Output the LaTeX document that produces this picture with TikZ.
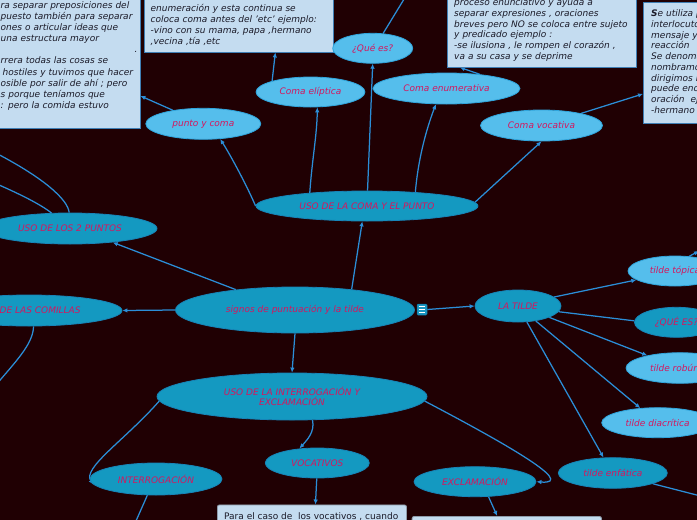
\documentclass[tikz,border=0pt]{standalone}
\usepackage{fontspec}
\setmainfont{DejaVu Sans}
\usetikzlibrary{shapes.geometric,arrows.meta,calc}
\definecolor{bgc}{HTML}{200003}
\definecolor{dkfill}{HTML}{1499C1}
\definecolor{dkdraw}{HTML}{1784B8}
\definecolor{ltfill}{HTML}{55BEEC}
\definecolor{ltdraw}{HTML}{2FA4DC}
\definecolor{txtc}{HTML}{D4175E}
\definecolor{linec}{HTML}{2B8ED8}
\definecolor{boxfill}{HTML}{C4DCF0}
\definecolor{boxdraw}{HTML}{3F7FB5}
\definecolor{boxgrey}{HTML}{8E9BAA}
\definecolor{boxtxt}{HTML}{1A1A28}
\definecolor{iconfill}{HTML}{1A97C2}
\definecolor{icondraw}{HTML}{0E6F9C}
\pgfdeclarelayer{bglayer}
\pgfdeclarelayer{edgelayer}
\pgfsetlayers{bglayer,edgelayer,main}
\begin{document}
\begin{tikzpicture}[x=1pt,y=-1pt,
  ell/.style={ellipse, inner sep=0pt, font=\fontsize{9}{10.7}\selectfont\itshape, text=txtc, line width=0.8pt, align=center},
  dk/.style={ell, fill=dkfill, draw=dkdraw},
  lt/.style={ell, fill=ltfill, draw=ltdraw},
  boxn/.style={rectangle, fill=boxfill, draw=boxdraw, line width=0.9pt, inner sep=0pt, anchor=north west},
  btext/.style={anchor=base west, inner sep=0pt, text width=220pt, align=left, text=boxtxt, font=\fontsize{9}{#1}\selectfont\itshape},
  conn/.style={draw=linec, line width=1.25pt},
  arr/.style={conn, -{Latex[length=5pt,width=4.5pt]}},
  iconbox/.style={rectangle, rounded corners=1pt, minimum width=10pt, minimum height=11pt, inner sep=0pt, fill=iconfill, draw=icondraw, line width=0.5pt,
    path picture={
      \draw[white, line width=0.6pt] ($(path picture bounding box.center)+(-2.6,-3)$) -- +(5.2,0);
      \draw[white, line width=0.6pt] ($(path picture bounding box.center)+(-2.6,0)$) -- +(5.2,0);
      \draw[white, line width=0.6pt] ($(path picture bounding box.center)+(-2.6,3)$) -- +(5.2,0);
    }},
]
\useasboundingbox (0,0) rectangle (697,520);
\begin{pgfonlayer}{bglayer}
\fill[bgc] (0,0) rectangle (697,520);
\end{pgfonlayer}

% text boxes
\node[boxn, minimum width=159.5pt, minimum height=147.5pt] (boxA) at (-20,-20) {};
\node[boxn, minimum width=189.8pt, minimum height=71.5pt] (boxB) at (143.5,-20) {};
\node[boxn, minimum width=189.3pt, minimum height=86.5pt] (boxC) at (446.7,-20) {};
\node[boxn, minimum width=80pt, minimum height=120.6pt] (boxD) at (643,2) {};
\node[boxn, rounded corners=2pt, draw=boxgrey, minimum width=189pt, minimum height=40pt] (boxE) at (217,504.5) {};
\node[boxn, rounded corners=2pt, draw=boxgrey, minimum width=189.3pt, minimum height=30pt] (boxF) at (411.7,516) {};

\node[btext=11.17] (tA) at (0.5,8) {ra separar preposiciones del\\puesto también para separar\\ones o articular ideas que\\una estructura mayor\\\hspace*{134pt}.\\rrera todas las cosas se\\\hspace*{2pt}hostiles y tuvimos que hacer\\osible por salir de ahí ; pero\\s porque teníamos que\\: pero la comida estuvo};
\node[btext=11.17] (tB) at (150.5,11) {enumeración y esta continua se\\coloca coma antes del {\char"27}etc{\char"27} ejemplo:\\-vino con su mama, papa ,hermano\\,vecina ,tía ,etc};
\node[btext=10.8] (tC) at (454,5.5) {proceso enunciativo y ayuda a\\separar expresiones , oraciones\\breves pero NO se coloca entre sujeto\\y predicado ejemplo :\\-se ilusiona , le rompen el corazón ,\\va a su casa y se deprime};
\node[btext=10.78] (tD) at (651,16.5) {\textbf{S}e utiliza p\\interlocuto\\mensaje y\\reacción\\Se denoma\\nombramo\\dirigimos l\\puede enc\\oración\hspace*{3pt} ej\\-hermano};
\node[anchor=base west, inner sep=0pt, text=boxtxt, font=\fontsize{9}{11}\selectfont] (tE) at (224,519) {Para el caso de\ \ los vocativos , cuando};

% ellipse nodes
\node[dk, minimum width=239pt, minimum height=46pt] (main) at (295,310) {signos de puntuación y la tilde};
\node[dk, minimum width=222pt, minimum height=30pt] (coma) at (367,206) {USO DE LA COMA Y EL PUNTO};
\node[dk, minimum width=174pt, minimum height=31pt] (dos) at (70,228.5) {USO DE LOS 2 PUNTOS};
\node[dk, minimum width=186pt, minimum height=31pt] (com) at (29,310.5) {USO DE LAS COMILLAS};
\node[dk, minimum width=86pt, minimum height=32pt] (tilde) at (518,306) {LA TILDE};
\node[dk, minimum width=270pt, minimum height=47pt] (interr) at (292,396.5) {USO DE LA INTERROGACIÓN Y\\EXCLAMACIÓN};
\node[dk, minimum width=104pt, minimum height=30pt] (voca) at (317.3,463) {VOCATIVOS};
\node[dk, minimum width=132pt, minimum height=32pt] (interro) at (156,479) {INTERROGACIÓN};
\node[dk, minimum width=122pt, minimum height=30pt] (excl) at (475,481.7) {EXCLAMACIÓN};
\node[dk, minimum width=109pt, minimum height=30.6pt] (enf) at (612.8,473) {tilde enfática};
\node[lt, minimum width=112pt, minimum height=30pt] (diac) at (657.7,422.7) {tilde diacrítica};
\node[lt, minimum width=108pt, minimum height=30.6pt] (rob) at (680,368) {tilde robúrica};
\node[dk, minimum width=84pt, minimum height=30pt] (que2) at (676.5,322.3) {¿QUÉ ES?};
\node[lt, minimum width=94pt, minimum height=30pt] (top) at (675,271) {tilde tópica};
\node[lt, minimum width=115pt, minimum height=31pt] (pyc) at (203.3,123.8) {punto y coma};
\node[lt, minimum width=109pt, minimum height=30pt] (elip) at (310.5,92) {Coma elíptica};
\node[lt, minimum width=80pt, minimum height=30pt] (que) at (372.7,48.3) {¿Qué es?};
\node[lt, minimum width=147pt, minimum height=31pt] (enum) at (446.5,88.5) {Coma enumerativa};
\node[lt, minimum width=122pt, minimum height=31pt] (voc) at (541.5,125.5) {Coma vocativa};
\node[iconbox] (icon) at (422,309.5) {};

% free ends
\coordinate (qtop) at (409.6,-10);
\coordinate (dosoffA) at (-10,150);
\coordinate (dosoffB) at (-10,181);
\coordinate (comoff) at (-10,392);
\coordinate (interrooff) at (132,530);
\coordinate (enfoff) at (720,501);
\coordinate (topoff) at (699,251);

\begin{pgfonlayer}{edgelayer}
\draw[arr] (main.20) -- (coma.-107);
\draw[arr] (main.161) -- (dos.-18);
\draw[arr] (main.west) -- (com.east);
\draw[arr] (icon.east) -- (tilde.west);
\draw[arr] (main.-90) -- (interr.90);
\draw[arr] (coma.west) .. controls (247,186) and (231,156) .. (pyc.-42);
\draw[arr] (coma.167) .. controls (312,160) and (317,135) .. (elip.-66);
\draw[arr] (coma.88) -- (que.-90);
\draw[arr] (coma.16) .. controls (418,160) and (426,130) .. (enum.-124);
\draw[arr] (coma.2) -- (voc.-90);
\draw[conn] (que.55) -- (qtop);
\draw[arr] (voc.17) -- ($(boxD.south west)+(0,-29.6)$);
\draw[arr] (enum.23) -- ($(boxC.south)+(-82,0)$);
\draw[arr] (elip.164) -- ($(boxB.south)+(36.5,0)$);
\draw[arr] (pyc.156) -- ($(boxA.south east)+(0,-32.5)$);
\draw[conn] (dos.93) .. controls (68,200) and (45,178) .. (dosoffA);
\draw[conn] (dos.140) .. controls (40,204) and (20,194) .. (dosoffB);
\draw[conn] (com.-74) .. controls (33,345) and (15,362) .. (comoff);
\draw[arr] (interr.182) .. controls (125,440) and (82,468) .. (interro.185);
\draw[conn] (interro.-118) -- (interrooff);
\draw[arr] (interr.-49) .. controls (315,432) and (307,440) .. (voca.141);
\draw[arr] (interr.-2) .. controls (495,438) and (580,485) .. (excl.east);
\draw[arr] (voca.-92) -- ($(boxE.north)+(3.5,0)$);
\draw[arr] (excl.-48) -- ($(boxF.north)+(-9.6,0)$);
\draw[arr] (tilde.14) -- (top.193);
\draw[conn] (tilde.-8) -- (que2.178);
\draw[arr] (tilde.-20) -- (rob.159);
\draw[arr] (tilde.-40) -- (diac.140);
\draw[arr] (tilde.-61) -- (enf.121);
\draw[conn] (enf.-15) -- (enfoff);
\draw[arr] (top.46) -- (topoff);
\end{pgfonlayer}
\end{tikzpicture}
\end{document}
